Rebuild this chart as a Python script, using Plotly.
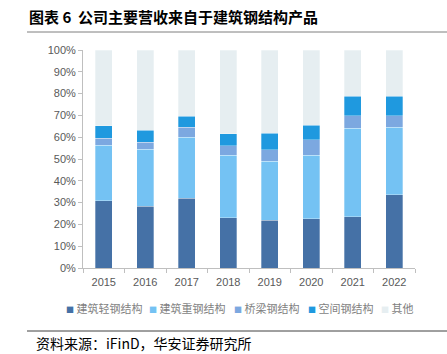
import plotly.graph_objects as go

years = ["2015", "2016", "2017", "2018", "2019", "2020", "2021", "2022"]
light_steel = [30.9, 28.3, 32.1, 23.0, 22.0, 22.7, 23.6, 33.7]
heavy_steel = [25.4, 26.2, 27.9, 28.7, 27.0, 29.0, 40.6, 30.9]
bridge_steel = [3.3, 3.2, 4.6, 4.3, 5.2, 7.1, 5.6, 5.2]
space_steel = [5.7, 5.4, 5.1, 5.5, 7.5, 6.7, 8.9, 8.9]
other = [round(100 - a - b - c - d, 1) for a, b, c, d in zip(light_steel, heavy_steel, bridge_steel, space_steel)]

series_names = ["建筑轻钢结构", "建筑重钢结构", "桥梁钢结构", "空间钢结构", "其他"]
series_vals = [light_steel, heavy_steel, bridge_steel, space_steel, other]
colors = ["#4571A6", "#74C2F3", "#7CA8E0", "#1F99DF", "#E6EEF1"]

W, H = 447, 354
ml, mr, mt, mb = 83, 32, 50, 86

fig = go.Figure()
for name, vals, col in zip(series_names, series_vals, colors):
    fig.add_trace(go.Bar(
        x=years, y=[v / 100 for v in vals], name=name,
        marker=dict(color=col, line=dict(color="rgba(255,255,255,0.6)", width=0.5)),
    ))

pw = W - ml - mr
ph = H - mt - mb

def px2paper_x(px):
    return (px - ml) / pw

def px2paper_y(py):
    return (H - mb - py) / ph

# custom legend row
legend_x = [64, 147, 232, 306, 379]
legend_ann = []
for name, col, lx in zip(series_names, colors, legend_x):
    legend_ann.append(dict(
        text=f"<span style='color:{col};font-size:8px'>■</span> {name}", xref="paper", yref="paper",
        x=px2paper_x(lx), y=px2paper_y(308), xanchor="left", yanchor="middle", showarrow=False,
        font=dict(family="Noto Sans CJK SC", size=11, color="#7F7F7F"),
    ))

fig.update_layout(
    width=W, height=H,
    margin=dict(l=ml, r=mr, t=mt, b=mb, autoexpand=False),
    barmode="stack", bargap=0.59,
    plot_bgcolor="white", paper_bgcolor="white",
    font=dict(family="Liberation Sans, Arial, sans-serif", size=11, color="#595959"),
    showlegend=False,
    xaxis=dict(
        showline=True, linecolor="#BFBFBF", linewidth=1,
        ticks="outside", tickson="boundaries", ticklen=4, tickcolor="#BFBFBF",
        tickfont=dict(size=11, color="#595959"), ticklabelstandoff=4,
    ),
    yaxis=dict(
        range=[0, 1], tickformat=".0%", dtick=0.1,
        showgrid=False, zeroline=False,
        showline=True, linecolor="#BFBFBF", linewidth=1,
        ticks="outside", ticklen=4, tickcolor="#BFBFBF",
        tickfont=dict(size=11, color="#595959"),
    ),
    annotations=[
        dict(text="<b>图表 6  公司主要营收来自于建筑钢结构产品</b>", xref="paper", yref="paper",
             x=px2paper_x(27), y=px2paper_y(16), xanchor="left", yanchor="middle", showarrow=False,
             font=dict(family="Noto Sans CJK SC", size=15, color="#000000")),
        dict(text="资料来源：iFinD，华安证券研究所", xref="paper", yref="paper",
             x=px2paper_x(34), y=px2paper_y(343), xanchor="left", yanchor="middle", showarrow=False,
             font=dict(family="Noto Sans CJK SC", size=14, color="#000000")),
    ] + legend_ann,
    shapes=[
        dict(type="line", xref="paper", yref="paper", x0=px2paper_x(27), x1=px2paper_x(447),
             y0=px2paper_y(32), y1=px2paper_y(32), line=dict(color="#7F7F7F", width=1)),
        dict(type="line", xref="paper", yref="paper", x0=px2paper_x(27), x1=px2paper_x(447),
             y0=px2paper_y(331), y1=px2paper_y(331), line=dict(color="#404040", width=1)),
    ],
)

fig.write_html("out.html")
